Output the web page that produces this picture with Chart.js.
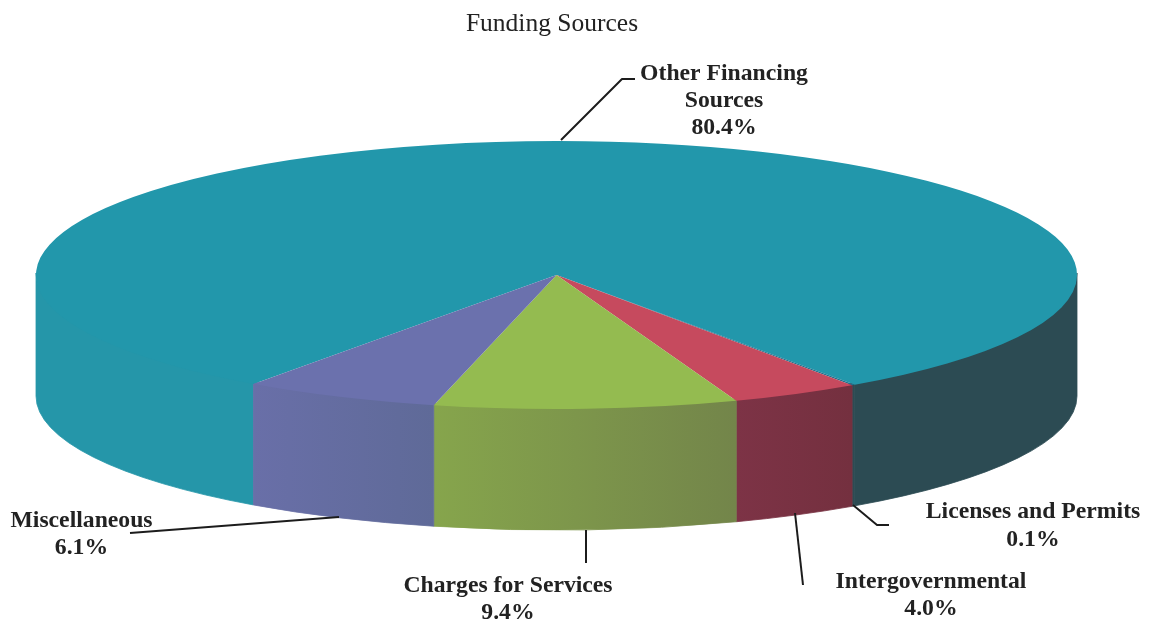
<!DOCTYPE html>
<html>
<head>
<meta charset="utf-8">
<script src="https://cdn.jsdelivr.net/npm/chart.js@4"></script>
<style>
html,body{margin:0;padding:0;background:#fff;}
canvas{display:block;}
</style>
</head>
<body>
<canvas id="c" width="1149" height="624"></canvas>
<script>
const titleText = "Funding Sources";
const categories = ["Other Financing Sources", "Licenses and Permits", "Intergovernmental", "Charges for Services", "Miscellaneous"];
const values = [80.4, 0.1, 4.0, 9.4, 6.1];
const topColors = ["#2297ab", "#1f6f8c", "#c64a5e", "#94bb50", "#6b71ad"];
const sideColorsLeft = ["#2596a9", "#2c4b53", "#7d3346", "#86a54c", "#696fa8"];
const sideColorsRight = ["#2c4b53", "#2c4b53", "#74303f", "#73854a", "#5f6a98"];

// Picture geometry of the tilted pie and its annotations
const PIE = {cx: 556.5, cy: 275, rx: 520.5, ry: 134, depth: 121, rotation: 215.6};
const LABELS = [
  {i: 0, x: 724, y: 80, lines: ["Other Financing", "Sources"], lh: 27,
   leader: [[561,140],[622,79],[635,79]]},
  {i: 1, x: 1033, y: 518, lines: ["Licenses and Permits"], lh: 28,
   leader: [[853,505],[877,525],[889,525]]},
  {i: 2, x: 931, y: 588, lines: ["Intergovernmental"], lh: 27,
   leader: [[795,513],[803,585]]},
  {i: 3, x: 508, y: 592, lines: ["Charges for Services"], lh: 27,
   leader: [[586,530],[586,563]]},
  {i: 4, x: 81.5, y: 527, lines: ["Miscellaneous"], lh: 27,
   leader: [[130,533],[339,517]]}
];

const tiltPlugin = {
  id: 'tilt',
  beforeDatasetsDraw(chart) {
    const ctx = chart.ctx;
    const arcs = chart.getDatasetMeta(0).data;
    const {cx, cy, rx, ry, depth} = PIE;
    // Extruded side wall, following the angles of the library's arcs
    arcs.forEach((arc, i) => {
      const {startAngle, endAngle} = arc.getProps(['startAngle', 'endAngle']);
      [0, 2 * Math.PI].forEach(shift => {
        const a0 = Math.max(startAngle, shift);
        const a1 = Math.min(endAngle, shift + Math.PI);
        if (a1 <= a0) return;
        const xa = cx + rx * Math.cos(a0), xb = cx + rx * Math.cos(a1);
        const onLeft = i === 0 && (xa + xb) / 2 < cx;
        const onRight = i === 0 && !onLeft;
        const g = ctx.createLinearGradient(Math.min(xa, xb), 0, Math.max(xa, xb) + 0.01, 0);
        g.addColorStop(0, onRight ? sideColorsRight[i] : sideColorsLeft[i]);
        g.addColorStop(1, onLeft ? sideColorsLeft[i] : sideColorsRight[i]);
        ctx.save();
        ctx.beginPath();
        // upper edge tucked slightly under the top face so no light seam shows
        ctx.ellipse(cx, cy - 2, rx, ry, 0, a0, a1);
        ctx.ellipse(cx, cy + depth, rx, ry, 0, a1, a0, true);
        ctx.closePath();
        ctx.fillStyle = g;
        ctx.fill();
        ctx.strokeStyle = g;
        ctx.lineWidth = 0.8;
        ctx.stroke();
        ctx.restore();
      });
    });
    // Tilt the top face
    const first = arcs[0];
    const R = first.outerRadius;
    ctx.save();
    ctx.translate(cx, cy);
    ctx.scale(rx / R, ry / R);
    ctx.translate(-first.x, -first.y);
  },
  afterDatasetsDraw(chart) {
    chart.ctx.restore();
  },
  afterDraw(chart) {
    const ctx = chart.ctx;
    ctx.save();
    ctx.strokeStyle = "#1c1c1c";
    ctx.lineWidth = 2;
    ctx.lineJoin = "round";
    ctx.fillStyle = "#222222";
    ctx.font = "bold 23.7px 'Liberation Serif'";
    ctx.textAlign = "center";
    ctx.textBaseline = "alphabetic";
    LABELS.forEach(l => {
      ctx.beginPath();
      l.leader.forEach((p, k) => k ? ctx.lineTo(p[0], p[1]) : ctx.moveTo(p[0], p[1]));
      ctx.stroke();
      const text = [...l.lines, values[l.i].toFixed(1) + "%"];
      text.forEach((t, k) => ctx.fillText(t, l.x, l.y + k * l.lh));
    });
    ctx.restore();
  }
};

new Chart(document.getElementById('c'), {
  type: 'pie',
  plugins: [tiltPlugin],
  data: {
    labels: categories,
    datasets: [{
      data: values,
      backgroundColor: topColors,
      borderWidth: 0,
      clip: false
    }]
  },
  options: {
    responsive: false,
    animation: false,
    rotation: PIE.rotation,
    layout: {padding: {top: 9, right: 45, bottom: 20}},
    plugins: {
      legend: {display: false},
      tooltip: {enabled: false},
      title: {
        display: true,
        text: titleText,
        color: "#222222",
        font: {family: "'Liberation Serif'", size: 25.5, weight: 'normal'},
        padding: 0
      }
    }
  }
});
</script>
</body>
</html>
